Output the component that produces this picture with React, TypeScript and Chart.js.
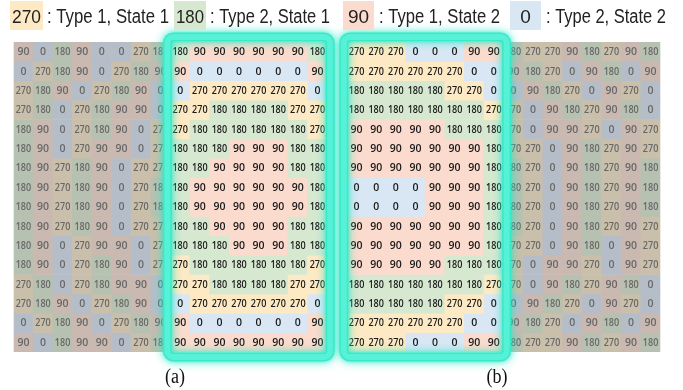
import React, { useEffect, useRef } from 'react';
import { Chart, registerables } from 'chart.js';

Chart.register(...registerables);

// Legend: state value and its meaning
const legendValues = [270, 180, 90, 0];
const legendLabels = [': Type 1, State 1', ': Type 2, State 1', ': Type 1, State 2', ': Type 2, State 2'];
const panelLabels = ['(a)', '(b)'];

// Grid (a): 16 rows x 16 columns
const gridA = [
  [90, 0, 180, 90, 0, 0, 270, 180, 180, 90, 90, 90, 90, 90, 90, 180],
  [0, 270, 180, 90, 0, 270, 180, 90, 90, 0, 0, 0, 0, 0, 0, 90],
  [270, 180, 90, 0, 270, 180, 90, 0, 0, 270, 270, 270, 270, 270, 270, 0],
  [270, 180, 0, 270, 180, 90, 90, 0, 270, 270, 180, 180, 180, 180, 270, 270],
  [180, 90, 0, 270, 180, 90, 0, 270, 270, 180, 180, 180, 180, 180, 180, 270],
  [180, 90, 0, 270, 90, 90, 0, 270, 180, 180, 180, 90, 90, 90, 180, 180],
  [180, 90, 270, 180, 90, 0, 270, 270, 180, 180, 90, 90, 90, 90, 180, 180],
  [180, 90, 270, 180, 90, 0, 270, 180, 180, 90, 90, 90, 90, 90, 90, 180],
  [180, 90, 270, 180, 90, 0, 270, 180, 180, 90, 90, 90, 90, 90, 90, 180],
  [180, 90, 270, 180, 90, 0, 270, 270, 180, 180, 90, 90, 90, 90, 180, 180],
  [180, 90, 0, 270, 90, 90, 0, 270, 180, 180, 180, 90, 90, 90, 180, 180],
  [180, 90, 0, 270, 180, 90, 0, 270, 270, 180, 180, 180, 180, 180, 180, 270],
  [270, 180, 0, 270, 180, 90, 90, 0, 270, 270, 180, 180, 180, 180, 270, 270],
  [270, 180, 90, 0, 270, 180, 90, 0, 0, 270, 270, 270, 270, 270, 270, 0],
  [0, 270, 180, 90, 0, 270, 180, 90, 90, 0, 0, 0, 0, 0, 0, 90],
  [90, 0, 180, 90, 90, 0, 270, 180, 90, 90, 90, 90, 90, 90, 90, 90],
];

// Grid (b): 16 rows x 16 columns
const gridB = [
  [270, 270, 270, 0, 0, 0, 90, 90, 180, 270, 270, 90, 180, 270, 90, 180],
  [270, 270, 270, 270, 270, 270, 0, 0, 90, 180, 270, 0, 90, 180, 0, 90],
  [180, 180, 180, 180, 180, 270, 270, 0, 0, 90, 180, 270, 0, 90, 270, 0],
  [180, 180, 180, 180, 180, 180, 180, 270, 270, 0, 90, 180, 270, 90, 180, 0],
  [90, 90, 90, 90, 90, 180, 180, 180, 270, 0, 90, 90, 270, 0, 90, 270],
  [90, 90, 90, 90, 90, 90, 90, 180, 270, 270, 0, 90, 180, 270, 90, 270],
  [90, 90, 90, 90, 90, 90, 90, 180, 180, 270, 0, 90, 180, 270, 90, 180],
  [0, 0, 0, 0, 90, 90, 90, 180, 180, 270, 0, 90, 180, 270, 90, 180],
  [0, 0, 0, 0, 90, 90, 90, 180, 180, 270, 0, 90, 180, 270, 90, 180],
  [90, 90, 90, 90, 90, 90, 90, 180, 180, 270, 0, 90, 180, 270, 90, 270],
  [90, 90, 90, 90, 90, 90, 90, 180, 270, 270, 0, 90, 180, 0, 90, 270],
  [90, 90, 90, 90, 90, 180, 180, 180, 270, 0, 90, 90, 270, 0, 90, 270],
  [180, 180, 180, 180, 180, 180, 180, 270, 270, 0, 90, 180, 270, 90, 180, 0],
  [180, 180, 180, 180, 180, 270, 270, 0, 0, 90, 180, 270, 0, 90, 270, 0],
  [270, 270, 270, 270, 270, 270, 0, 0, 90, 180, 270, 0, 90, 180, 0, 90],
  [270, 270, 270, 0, 0, 0, 90, 90, 180, 270, 270, 90, 180, 270, 90, 180],
];

// Highlighted column ranges (first, last) of each grid
const highlightA = [8, 15];
const highlightB = [0, 7];

const brightColors: Record<number, string> = { 270: '#fde9c3', 180: '#d6e8d0', 90: '#fadbcd', 0: '#d9e7f4' };
const dimColors: Record<number, string> = { 270: '#c9bfaa', 180: '#b7c1b1', 90: '#c9b9b1', 0: '#b5bec8' };

const GAP = 16; // index of the empty category between both grids

const labels = [
  ...gridA[0].map((_, i) => 'a' + (i + 1)),
  '',
  ...gridB[0].map((_, i) => 'b' + (i + 1)),
];

function isBright(col: number): boolean {
  if (col < GAP) return col >= highlightA[0] && col <= highlightA[1];
  const j = col - GAP - 1;
  return j >= highlightB[0] && j <= highlightB[1];
}

const cellPlugin = {
  id: 'cellText',
  afterDatasetsDraw(chart: any) {
    const ctx = chart.ctx as CanvasRenderingContext2D;
    ctx.save();
    ctx.textAlign = 'center';
    ctx.textBaseline = 'middle';
    chart.data.datasets.forEach((ds: any, di: number) => {
      const meta = chart.getDatasetMeta(di);
      meta.data.forEach((el: any, i: number) => {
        const v = ds.cellValues[i];
        if (v === null || v === undefined) return;
        const p = el.getProps(['x', 'y', 'base'], true);
        const cy = (p.y + p.base) / 2 + 0.5;
        const bright = isBright(i);
        ctx.font = '600 10.5px "Open Sans", "DejaVu Sans", sans-serif';
        ctx.fillStyle = bright ? '#1a1a1a' : '#686868';
        ctx.fillText(String(v), p.x, cy, 15.5);
      });
    });
    ctx.restore();

    // glowing frames around the highlighted blocks
    const xs = chart.scales.x;
    const ys = chart.scales.y;
    const half = (xs.getPixelForValue(1) - xs.getPixelForValue(0)) / 2;
    const top = ys.getPixelForValue(0);
    const bottom = ys.getPixelForValue(16);
    const frames = [
      [highlightA[0], highlightA[1]],
      [GAP + 1 + highlightB[0], GAP + 1 + highlightB[1]],
    ];
    ctx.save();
    frames.forEach(([a, b]) => {
      const x0 = xs.getPixelForValue(a) - half - 3;
      const x1 = xs.getPixelForValue(b) + half + 3;
      const y0 = top - 5;
      const y1 = bottom + 5;
      ctx.lineJoin = 'round';
      ctx.shadowColor = 'rgba(40,232,200,1)';
      ctx.shadowBlur = 10;
      ctx.strokeStyle = 'rgba(64,234,204,0.95)';
      ctx.lineWidth = 9;
      ctx.beginPath();
      (ctx as any).roundRect(x0, y0, x1 - x0, y1 - y0, 6);
      ctx.stroke();
      ctx.shadowBlur = 4;
      ctx.strokeStyle = 'rgba(90,242,214,0.95)';
      ctx.lineWidth = 6;
      ctx.beginPath();
      (ctx as any).roundRect(x0, y0, x1 - x0, y1 - y0, 6);
      ctx.stroke();
    });
    ctx.restore();
  },
  afterDraw(chart: any) {
    const ctx = chart.ctx as CanvasRenderingContext2D;
    ctx.save();
    const boxes = [
      { bx: 10, bw: 33, tx: 47, tw: 122 },
      { bx: 174, bw: 32, tx: 210, tw: 120 },
      { bx: 343, bw: 31, tx: 379, tw: 121 },
      { bx: 510, bw: 31, tx: 546, tw: 120 },
    ];
    legendValues.forEach((v, i) => {
      const b = boxes[i];
      ctx.fillStyle = brightColors[v];
      ctx.fillRect(b.bx, 1, b.bw, 29);
      ctx.fillStyle = '#222';
      ctx.textBaseline = 'middle';
      ctx.textAlign = 'center';
      ctx.font = '19px "Liberation Sans Narrow", "Liberation Sans", Arial, sans-serif';
      ctx.fillText(String(v), b.bx + b.bw / 2, 18, b.bw - 4);
      ctx.textAlign = 'left';
      ctx.font = '20px "Liberation Sans Narrow", "Liberation Sans", Arial, sans-serif';
      ctx.fillText(legendLabels[i], b.tx, 17, b.tw);
    });
    ctx.fillStyle = '#111';
    ctx.textAlign = 'center';
    ctx.textBaseline = 'middle';
    ctx.font = '20px "Liberation Serif", "Times New Roman", serif';
    ctx.fillText(panelLabels[0], 175, 378, 20);
    ctx.fillText(panelLabels[1], 497, 378, 21);
    ctx.restore();
  },
};

export default function App() {
  const ref = useRef<HTMLCanvasElement | null>(null);
  useEffect(() => {
    if (!ref.current) return;
    const datasets = gridA.map((rowA, r) => {
      const vals: (number | null)[] = [...rowA, null, ...gridB[r]];
      return {
        label: 'row ' + (r + 1),
        cellValues: vals,
        data: vals.map((v) => (v === null ? null : [r, r + 1])),
        backgroundColor: vals.map((v, i) =>
          v === null ? 'rgba(0,0,0,0)' : isBright(i) ? brightColors[v] : dimColors[v]
        ),
        borderWidth: 0,
        grouped: false,
        barPercentage: 1,
        categoryPercentage: 1,
      };
    });
    const chart = new Chart(ref.current, {
      type: 'bar',
      data: { labels, datasets: datasets as any },
      options: {
        animation: false,
        responsive: true,
        maintainAspectRatio: false,
        layout: { padding: { left: 13.6, right: 22.6, top: 42, bottom: 38 } },
        plugins: { legend: { display: false }, tooltip: { enabled: false } },
        scales: {
          x: { display: false, grid: { display: false } },
          y: { display: false, min: 0, max: 16, reverse: true, grid: { display: false } },
        },
      },
      plugins: [cellPlugin],
    });
    return () => chart.destroy();
  }, []);
  return (
    <div style={{ position: 'absolute', left: 0, top: 0, width: 683, height: 390, background: '#fff' }}>
      <canvas ref={ref} />
    </div>
  );
}
